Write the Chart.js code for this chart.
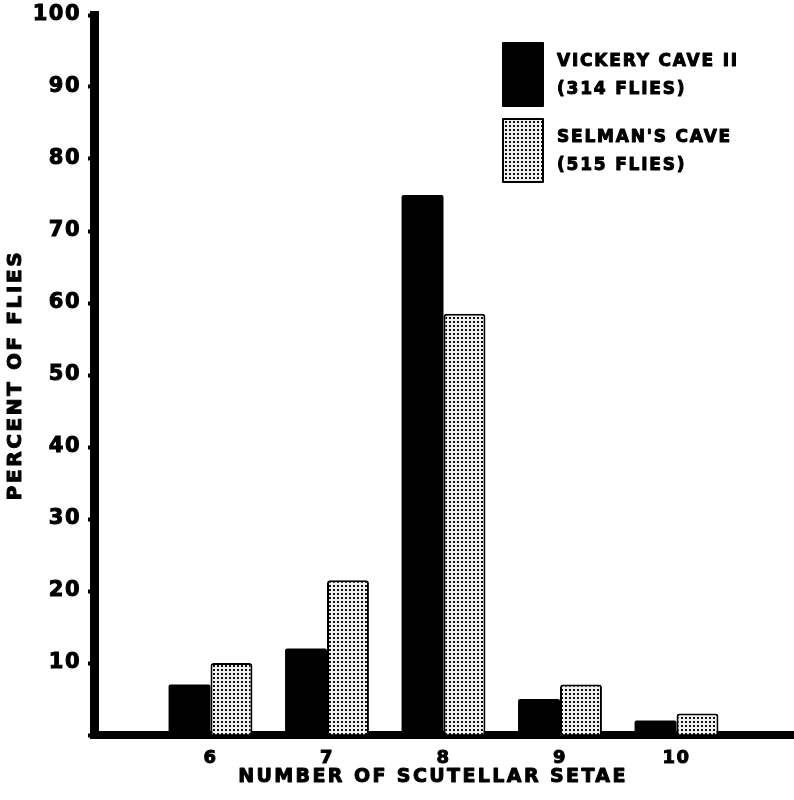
<!DOCTYPE html>
<html>
<head>
<meta charset="utf-8">
<script src="https://cdn.jsdelivr.net/npm/chart.js@4.4.1/dist/chart.umd.min.js"></script>
<style>
  html, body { margin: 0; padding: 0; background: #fff; }
  #wrap { position: relative; width: 794px; height: 800px; }
</style>
</head>
<body>
<div id="wrap"><canvas id="chart"></canvas></div>
<script>
// ── data ────────────────────────────────────────────
// blank slots at each end keep the empty space left of 6 and right of 10
const setae = ["", "6", "7", "8", "9", "10", ""];
const vickery = [null, 7, 12, 75, 5, 2, null];
const selman = [null, 10, 21.5, 58.5, 7, 3, null];
const seriesNames = ["VICKERY CAVE II", "SELMAN'S CAVE"];
const seriesCounts = ["(314 FLIES)", "(515 FLIES)"];
const yTicks = [10, 20, 30, 40, 50, 60, 70, 80, 90, 100];
const xTitle = "NUMBER OF SCUTELLAR SETAE";
const yTitle = "PERCENT OF FLIES";

const FONT = "'DejaVu Sans', sans-serif";

// stippled fill for the Selman's Cave bars
function makeDots() {
  const c = document.createElement("canvas");
  c.width = 4; c.height = 4;
  const g = c.getContext("2d");
  g.fillStyle = "#f0f0f0";
  g.fillRect(0, 0, 4, 4);
  g.fillStyle = "#111";
  g.fillRect(1, 1, 2, 2);
  return g.createPattern(c, "repeat");
}
const dots = makeDots();

// wide lettering like the original stencil type
const spacing = {
  id: "spacing",
  beforeDraw(chart) {
    chart.ctx.letterSpacing = "1.5px";
  },
};

// heavy text: fill plus a thin stroke
function heavyText(ctx, str, x, y) {
  ctx.strokeText(str, x, y);
  ctx.fillText(str, x, y);
}

// axis titles and the boxed legend, drawn with letter spacing
const annotations = {
  id: "annotations",
  afterDraw(chart) {
    const ctx = chart.ctx;
    const area = chart.chartArea;
    ctx.save();
    ctx.fillStyle = "#000";
    ctx.strokeStyle = "#000";
    ctx.lineWidth = 1;
    ctx.lineJoin = "round";
    ctx.textAlign = "center";
    ctx.textBaseline = "middle";

    ctx.letterSpacing = "2.4px";
    ctx.font = "bold 19px " + FONT;
    heavyText(ctx, xTitle, 433, 777);

    ctx.save();
    ctx.translate(16, (area.top + area.bottom) / 2);
    ctx.rotate(-Math.PI / 2);
    ctx.letterSpacing = "2.6px";
    ctx.font = "bold 20px " + FONT;
    heavyText(ctx, yTitle, 0, 0);
    ctx.restore();

    const fills = ["#000", dots];
    const tops = [43, 119];
    ctx.textAlign = "left";
    ctx.letterSpacing = "1.8px";
    ctx.font = "bold 17px " + FONT;
    for (let i = 0; i < 2; i++) {
      const y = tops[i];
      ctx.fillStyle = fills[i];
      ctx.fillRect(503, y, 40, 63);
      ctx.lineWidth = 2;
      ctx.strokeRect(503, y, 40, 63);
      ctx.lineWidth = 1;
      ctx.fillStyle = "#000";
      heavyText(ctx, seriesNames[i], 557, y + 19);
      heavyText(ctx, seriesCounts[i], 557, y + 47);
    }
    ctx.restore();
  },
};

new Chart(document.getElementById("chart"), {
  type: "bar",
  data: {
    labels: setae,
    datasets: [
      {
        label: seriesNames[0],
        data: vickery,
        backgroundColor: "#000",
        borderColor: "#000",
        borderWidth: 0,
        borderRadius: 2,
        borderSkipped: "bottom",
      },
      {
        label: seriesNames[1],
        data: selman,
        backgroundColor: dots,
        borderColor: "#000",
        borderWidth: 2,
        borderRadius: 3,
        borderSkipped: "bottom",
      },
    ],
  },
  options: {
    responsive: true,
    maintainAspectRatio: false,
    animation: false,
    layout: { padding: { top: 15, right: 0, left: 0, bottom: 0 } },
    categoryPercentage: 0.72,
    barPercentage: 1,
    plugins: {
      legend: { display: false },
      tooltip: { enabled: false },
    },
    scales: {
      x: {
        offset: false,
        grid: { display: false, drawTicks: true, tickLength: 12 },
        border: { display: true, width: 8, color: "#000" },
        ticks: {
          color: "#000",
          font: { family: FONT, weight: "bold", size: 18 },
          textStrokeColor: "#000",
          textStrokeWidth: 1,
          padding: 1,
          autoSkip: false,
          maxRotation: 0,
        },
        afterFit(s) { s.height = 65; },
      },
      y: {
        min: 0,
        max: 100,
        afterBuildTicks(s) { s.ticks = [0, ...yTicks].map(v => ({ value: v })); },
        grid: {
          display: true,
          drawOnChartArea: false,
          drawTicks: true,
          tickLength: 6,
          tickWidth: 4,
          color: "#000",
        },
        border: { display: true, width: 9, color: "#000" },
        ticks: {
          color: "#000",
          font: { family: FONT, weight: "bold", size: 21 },
          textStrokeColor: "#000",
          textStrokeWidth: 1,
          padding: 7,
          callback: v => (v === 0 ? "" : v),
        },
        afterFit(s) {
          s.width = 94;
          s.paddingTop = 0;
          s.paddingBottom = 0;
        },
      },
    },
  },
  plugins: [spacing, annotations],
});
</script>
</body>
</html>
